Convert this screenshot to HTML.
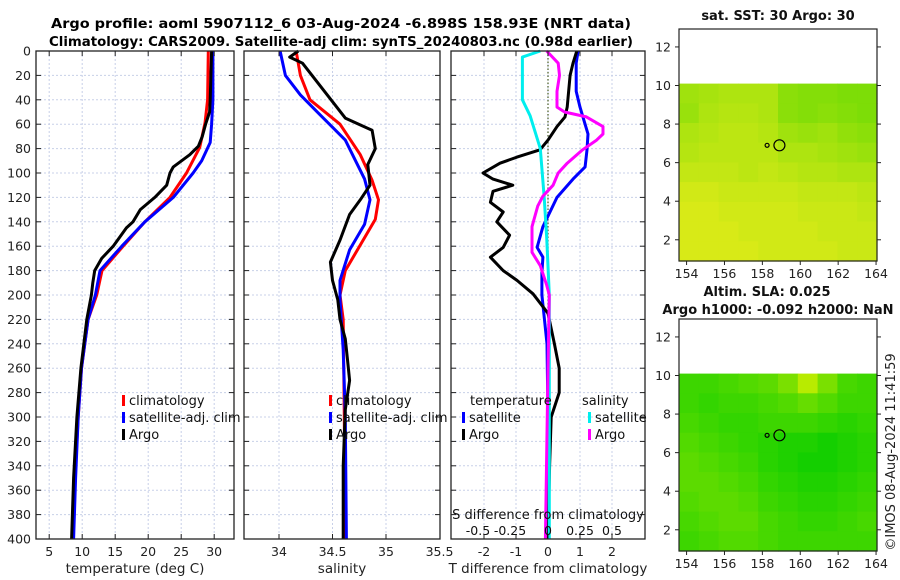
<!DOCTYPE html>
<html><head><meta charset="utf-8"><style>
html,body{margin:0;padding:0;background:#fff;}
svg{display:block;font-family:"DejaVu Sans","Liberation Sans",sans-serif;}
</style></head><body>
<svg id="fig" width="900" height="580" viewBox="0 0 900 580">
<text x="341" y="28" font-size="13.5" font-weight="bold" text-anchor="middle" textLength="580" lengthAdjust="spacingAndGlyphs">Argo profile: aoml 5907112_6 03-Aug-2024 -6.898S 158.93E (NRT data)</text>
<text x="341" y="46" font-size="13.5" font-weight="bold" text-anchor="middle" textLength="584" lengthAdjust="spacingAndGlyphs">Climatology: CARS2009. Satellite-adj clim: synTS_20240803.nc (0.98d earlier)</text>
<g id="g1"></g>
<g id="g2"></g>
<g id="g3"></g>
<g id="m1"></g>
<g id="m2"></g>
<text transform="translate(895,452) rotate(-90)" font-size="13" text-anchor="middle" fill="#222">©IMOS 08-Aug-2024 11:41:59</text>
</svg>
<script>
// ---------- data ----------
const depthTicks=[0,20,40,60,80,100,120,140,160,180,200,220,240,260,280,300,320,340,360,380,400];
const tempTicks=[5,10,15,20,25,30];
const salTicks=[34,34.5,35,35.5];
const tdiffTicks=[-2,-1,0,1,2];
const sdiffLabels=["-0.5","-0.25","0","0.25","0.5"];
const sdiffTicks=[-0.5,-0.25,0,0.25,0.5];

const climTD=[0,40,59,79,100,120,140,160,180,200,220,260,300,350,400];
const climT=[29.1,29.0,28.6,27.8,25.8,23.3,19.5,16.2,13.0,12.2,10.9,9.9,9.4,8.9,8.55];
const satTD=[0,40,60,75,90,100,120,140,160,180,200,220,260,300,350,400];
const satT=[29.8,29.8,29.6,29.4,28.1,26.8,23.8,19.5,16.0,12.7,12.0,10.9,9.9,9.4,9.0,8.7];
const argoTD=[0,20,40,50,60,70,78,85,95,100,110,120,130,140,145,160,170,180,190,200,220,260,300,350,400];
const argoT=[29.6,29.5,29.4,29.3,28.7,28.2,27.6,26.3,23.8,23.3,22.8,21.0,18.8,17.7,16.7,14.7,12.95,11.9,11.6,11.4,10.7,9.8,9.2,8.7,8.4];

const argoSD=[0,5,10,55,65,80,93,110,122,134,155,173,188,204,220,236,253,270,294,340,400];
const argoS=[34.18,34.10,34.22,34.62,34.87,34.90,34.83,34.85,34.76,34.66,34.57,34.48,34.50,34.55,34.57,34.62,34.64,34.66,34.62,34.60,34.60];
const climSD=[0,20,40,60,85,106,122,138,159,180,200,220,300,400];
const climS=[34.16,34.20,34.29,34.57,34.76,34.87,34.93,34.90,34.76,34.62,34.57,34.60,34.61,34.62];
const satSD=[0,20,36,52,73,105,122,142,163,188,204,245,300,400];
const satS=[34.01,34.06,34.20,34.38,34.62,34.80,34.85,34.80,34.66,34.57,34.57,34.60,34.62,34.63];

const dSatTD=[0,10,33,46,68,81,95,105,120,144,161,169,182,200,240,300,400];
const dSatT=[0.94,0.88,0.88,1.0,1.25,1.22,1.16,0.78,0.28,-0.16,-0.34,-0.16,-0.19,-0.19,-0.03,0.0,0.0];
const dArgoTD=[0,10,20,46,54,62,73,81,87,92,100,105,110,115,124,132,140,151,161,169,180,188,199,215,240,260,280,300,340,400];
const dArgoT=[0.9,0.78,0.69,0.6,0.53,0.28,0,-0.25,-0.97,-1.5,-2.03,-1.72,-1.1,-1.72,-1.8,-1.4,-1.6,-1.2,-1.4,-1.8,-1.4,-0.97,-0.47,0,0.2,0.35,0.35,0.1,0.05,0];
const dSatSD=[0,5,40,53,80,120,153,200,300,400];
const dSatS=[-0.06,-0.2,-0.2,-0.14,-0.06,-0.03,-0.01,0.01,0.01,0.01];
const dArgoSD=[0,10,20,33,46,50,54,62,68,73,81,92,100,110,119,127,144,165,176,192,200,260,330,400];
const dArgoS=[-0.01,0.08,0.09,0.07,0.07,0.13,0.3,0.43,0.43,0.38,0.27,0.15,0.08,0.04,-0.04,-0.08,-0.125,-0.125,-0.06,-0.01,0.01,0.0,-0.01,-0.02];

const lonTicks=[154,156,158,160,162,164];
const latTicks=[2,4,6,8,10,12];
const sstGrid=[
[.5,.55,.6,.6,.6,.35,.3,.3,.25,.25],
[.45,.6,.65,.65,.6,.35,.3,.35,.3,.25],
[.6,.65,.7,.7,.65,.5,.45,.5,.4,.35],
[.65,.7,.7,.7,.7,.6,.6,.55,.5,.45],
[.75,.75,.75,.7,.75,.7,.65,.65,.6,.6],
[.85,.85,.8,.8,.8,.8,.75,.75,.75,.7],
[.9,.9,.85,.85,.85,.85,.8,.8,.8,.75],
[.9,.9,.9,.85,.85,.85,.85,.8,.8,.8],
[.9,.9,.9,.9,.85,.85,.85,.85,.8,.8]];
const slaGrid=[
[.3,.3,.35,.4,.45,.6,.9,.6,.35,.3],
[.3,.25,.3,.3,.35,.4,.5,.4,.3,.3],
[.35,.3,.25,.25,.3,.3,.3,.25,.2,.25],
[.4,.35,.3,.25,.2,.15,.15,.1,.15,.2],
[.45,.4,.35,.3,.2,.15,.1,.1,.15,.2],
[.45,.45,.4,.35,.25,.2,.15,.15,.2,.25],
[.4,.45,.45,.4,.3,.25,.2,.2,.25,.3],
[.35,.4,.45,.45,.35,.3,.25,.25,.3,.35],
[.3,.35,.4,.4,.35,.3,.3,.3,.3,.3]];
const argoLon=158.9, argoLat=6.9;

// ---------- helpers ----------
const NS="http://www.w3.org/2000/svg";
function mk(parent,tag,attrs,txt){const e=document.createElementNS(NS,tag);for(const k in attrs)e.setAttribute(k,attrs[k]);if(txt!==undefined)e.textContent=txt;parent.appendChild(e);return e;}
const yD=d=>51+d*1.22;
const xT=t=>36+(t-3)*6.6;
const xS=s=>279+(s-34)*107;
const xDT=v=>548+v*32;
const xDS=v=>548+v*128;
const Y0=51,Y1=539;

function panel(g,x0,x1,xticks,xf,leftLabels){
  // grid
  depthTicks.forEach(d=>{const l=mk(g,'line',{x1:x0,x2:x1,y1:yD(d),y2:yD(d),stroke:'#c8d0e8','stroke-width':1,'stroke-dasharray':'2,2'});
    });
  xticks.forEach(t=>{const l=mk(g,'line',{x1:xf(t),x2:xf(t),y1:Y0,y2:Y1,stroke:'#c8d0e8','stroke-width':1,'stroke-dasharray':'2,2'});
    });
}
function frame(g,x0,x1,xticks,xf,leftLabels){
  const r=mk(g,'rect',{x:x0,y:Y0,width:x1-x0,height:Y1-Y0,fill:'none',stroke:'#222','stroke-width':1.3});
  
  depthTicks.forEach(d=>{
    mk(g,'line',{x1:x0,x2:x0+5,y1:yD(d),y2:yD(d),stroke:'#222'});
    mk(g,'line',{x1:x1-5,x2:x1,y1:yD(d),y2:yD(d),stroke:'#222'});
    if(leftLabels){const t=mk(g,'text',{x:x0-5,y:yD(d)+4.5,'font-size':12.5,'text-anchor':'end',fill:'#222'},String(d));
      }
  });
  xticks.forEach(v=>{mk(g,'line',{x1:xf(v),x2:xf(v),y1:Y1,y2:Y1-5,stroke:'#222'});mk(g,'line',{x1:xf(v),x2:xf(v),y1:Y0,y2:Y0+5,stroke:'#222'});});
}
function xlabels(g,ticks,xf,labels){
  ticks.forEach((v,i)=>{const t=mk(g,'text',{x:xf(v),y:556,'font-size':12.5,'text-anchor':'middle',fill:'#222'},labels?labels[i]:String(v));
    });
}
function line(g,ds,vs,xf,color,name,w){
  const pts=ds.map((d,i)=>xf(vs[i]).toFixed(1)+','+yD(d).toFixed(1)).join(' ');
  const p=mk(g,'polyline',{points:pts,fill:'none',stroke:color,'stroke-width':w||3,'stroke-linejoin':'round'});
  
}
function legend(g,x,y,color,label,name){
  mk(g,'rect',{x:x,y:y-10,width:3,height:11,fill:color});
  const t=mk(g,'text',{x:x+7,y:y,'font-size':13,fill:'#111'},label);
  
}

// ---------- panel 1 ----------
const g1=document.getElementById('g1');
panel(g1,36,234,tempTicks,xT);
line(g1,climTD,climT,xT,'#ff0000','climatology-temperature-line');
line(g1,satTD,satT,xT,'#0000ff','satellite-temperature-line');
line(g1,argoTD,argoT,xT,'#000','argo-temperature-line');
frame(g1,36,234,tempTicks,xT,true);
xlabels(g1,tempTicks,xT);
mk(g1,'text',{x:135,y:573,'font-size':13.5,'text-anchor':'middle',fill:'#222',},'temperature (deg C)');
legend(g1,122,405,'#ff0000','climatology','legend-climatology');
legend(g1,122,422,'#0000ff','satellite-adj. clim','legend-satellite');
legend(g1,122,439,'#000','Argo','legend-argo');

// ---------- panel 2 ----------
const g2=document.getElementById('g2');
panel(g2,244,440,[34,34.5,35],xS);
line(g2,climSD,climS,xS,'#ff0000','climatology-salinity-line');
line(g2,satSD,satS,xS,'#0000ff','satellite-salinity-line');
line(g2,argoSD,argoS,xS,'#000','argo-salinity-line');
frame(g2,244,440,[34,34.5,35],xS,false);
xlabels(g2,salTicks,xS);
mk(g2,'text',{x:342,y:573,'font-size':13.5,'text-anchor':'middle',fill:'#222',},'salinity');
legend(g2,329,405,'#ff0000','climatology','legend-climatology-sal');
legend(g2,329,422,'#0000ff','satellite-adj. clim','legend-satellite-sal');
legend(g2,329,439,'#000','Argo','legend-argo-sal');

// ---------- panel 3 ----------
const g3=document.getElementById('g3');
panel(g3,451,645,tdiffTicks,xDT);
mk(g3,'line',{x1:548,x2:548,y1:Y0,y2:Y1,stroke:'#556633','stroke-width':1.3,'stroke-dasharray':'1.5,2',});
line(g3,dSatTD,dSatT,xDT,'#0000ff','satellite-tdiff-line');
line(g3,dArgoTD,dArgoT,xDT,'#000','argo-tdiff-line');
line(g3,dSatSD,dSatS,xDS,'#00eeee','satellite-sdiff-line');
line(g3,dArgoSD,dArgoS,xDS,'#ff00ff','argo-sdiff-line');
frame(g3,451,645,tdiffTicks,xDT,false);
xlabels(g3,tdiffTicks,xDT);
mk(g3,'text',{x:548,y:573,'font-size':13.5,'text-anchor':'middle',fill:'#222',},'T difference from climatology');
mk(g3,'text',{x:548,y:519,'font-size':13,'text-anchor':'middle',fill:'#111',},'S difference from climatology');
sdiffTicks.forEach((v,i)=>{const t=mk(g3,'text',{x:xDS(v)-(v<0?6:0),y:535,'font-size':12.5,'text-anchor':'middle',fill:'#111'},sdiffLabels[i]);
  });
mk(g3,'text',{x:470,y:405,'font-size':13,fill:'#111',},'temperature');
mk(g3,'text',{x:582,y:405,'font-size':13,fill:'#111',},'salinity');
legend(g3,462,422,'#0000ff','satellite','legend-t-satellite');
legend(g3,462,439,'#000','Argo','legend-t-argo');
legend(g3,588,422,'#00eeee','satellite','legend-s-satellite');
legend(g3,588,439,'#ff00ff','Argo','legend-s-argo');

// ---------- maps ----------
function lerp(a,b,t){return Math.round(a+(b-a)*t);}
function colr(c0,c1,t){return 'rgb('+lerp(c0[0],c1[0],t)+','+lerp(c0[1],c1[1],t)+','+lerp(c0[2],c1[2],t)+')';}
function map(g,top,bot,grid,c0,c1,titles){
  const L=679,R=877,lon0=153.6,lon1=164.05,latB=0.9,latT=12.93;
  const X=lo=>L+(lo-lon0)/(lon1-lon0)*(R-L);
  const Yl=la=>bot-(la-latB)/(latT-latB)*(bot-top);
  const nr=grid.length,nc=grid[0].length;
  const dLat=(10.1-latB)/nr,dLon=(lon1-lon0)/nc;
  grid.forEach((row,i)=>row.forEach((v,j)=>{
    const x=X(lon0+j*dLon),y=Yl(10.1-i*dLat);
    const c=mk(g,'rect',{x:x.toFixed(1),y:y.toFixed(1),width:(X(lon0+(j+1)*dLon)-x+0.6).toFixed(1),height:(Yl(10.1-(i+1)*dLat)-y+0.6).toFixed(1),fill:colr(c0,c1,v)});
    
  }));
  mk(g,'circle',{cx:X(argoLon),cy:Yl(argoLat),r:5.5,fill:'none',stroke:'#000','stroke-width':1.2,});
  mk(g,'circle',{cx:X(158.25),cy:Yl(6.9),r:2,fill:'none',stroke:'#000','stroke-width':1.2});
  const fr=mk(g,'rect',{x:L,y:top,width:R-L,height:bot-top,fill:'none',stroke:'#222','stroke-width':1.2});
  
  latTicks.forEach(la=>{mk(g,'line',{x1:L-4,x2:L,y1:Yl(la),y2:Yl(la),stroke:'#222'});mk(g,'line',{x1:R,x2:R+4,y1:Yl(la),y2:Yl(la),stroke:'#222'});
    const t=mk(g,'text',{x:L-8,y:Yl(la)+4.5,'font-size':12.5,'text-anchor':'end',fill:'#222'},String(la));
    });
  lonTicks.forEach(lo=>{mk(g,'line',{x1:X(lo),x2:X(lo),y1:bot,y2:bot+4,stroke:'#222'});
    const t=mk(g,'text',{x:X(lo),y:bot+17,'font-size':12.5,'text-anchor':'middle',fill:'#222'},String(lo));
    });
  titles.forEach((tt,i)=>{const t=mk(g,'text',{x:tt[1],y:tt[2],'font-size':13,'font-weight':'bold','text-anchor':'middle',fill:'#111'},tt[0]);
    });
}
map(document.getElementById('m1'),29,261,sstGrid,[90,216,0],[230,236,26],[["sat. SST: 30 Argo: 30",778,20]]);
map(document.getElementById('m2'),319,551,slaGrid,[0,204,0],[204,238,0],[["Altim. SLA: 0.025",767,296],["Argo h1000: -0.092 h2000: NaN",778,314]]);
</script>
</body></html>
